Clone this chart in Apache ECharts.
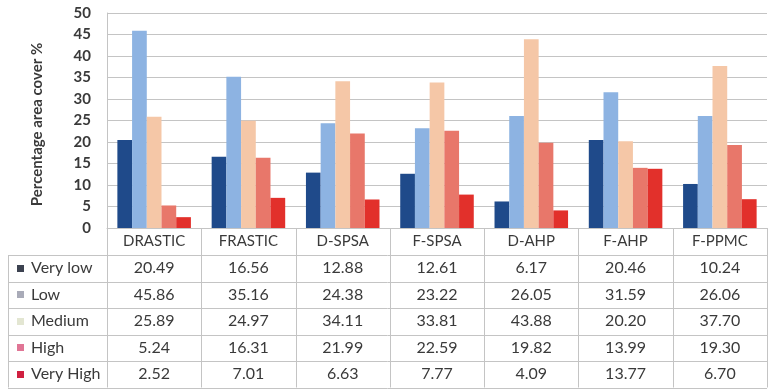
<!DOCTYPE html>
<html>
<head>
<meta charset="utf-8">
<script src="https://cdn.jsdelivr.net/npm/echarts@6/dist/echarts.min.js"></script>
<style>
  html, body { margin: 0; padding: 0; background: #ffffff; }
  #chart { width: 771px; height: 391px; }
</style>
</head>
<body>
<div id="chart"></div>
<script>
// Methods compared
const categories = ['DRASTIC', 'FRASTIC', 'D-SPSA', 'F-SPSA', 'D-AHP', 'F-AHP', 'F-PPMC'];

// Vulnerability classes and their share of area (%)
const classNames = ['Very low', 'Low', 'Medium', 'High', 'Very High'];
const veryLow  = [20.49, 16.56, 12.88, 12.61, 6.17, 20.46, 10.24];
const low      = [45.86, 35.16, 24.38, 23.22, 26.05, 31.59, 26.06];
const medium   = [25.89, 24.97, 34.11, 33.81, 43.88, 20.20, 37.70];
const high     = [5.24, 16.31, 21.99, 22.59, 19.82, 13.99, 19.30];
const veryHigh = [2.52, 7.01, 6.63, 7.77, 4.09, 13.77, 6.70];

// Y axis ticks
const yMin = 0, yMax = 50, yStep = 5;

const seriesValues = [veryLow, low, medium, high, veryHigh];
const barColors = ['#1f4a8a', '#8db3e2', '#f5c7a7', '#e8776a', '#e2302b'];
const keyColors = ['#3c4250', '#a9abb8', '#e3e6d2', '#e07595', '#d02040'];

const FONT = 'Lato, "Open Sans", sans-serif';
const LINE = '#c4c4c4';
const TEXT = '#3a3a3a';

const chart = echarts.init(document.getElementById('chart'), null, { renderer: 'canvas' });

const gridLeft = 107, gridRight = 4, gridTop = 13, gridBottom = 163;

chart.setOption({
  animation: false,
  backgroundColor: '#ffffff',
  grid: { left: gridLeft, right: gridRight, top: gridTop, bottom: gridBottom, containLabel: false },
  xAxis: {
    type: 'category',
    data: categories,
    axisLine: { show: true, lineStyle: { color: LINE, width: 1 } },
    axisTick: { show: false },
    axisLabel: { color: TEXT, fontFamily: FONT, fontSize: 15, margin: 6 }
  },
  yAxis: {
    type: 'value',
    min: yMin, max: yMax, interval: yStep,
    name: 'Percentage area cover %',
    nameLocation: 'middle',
    nameGap: 62,
    nameTextStyle: {
      color: TEXT, fontFamily: FONT, fontSize: 15, fontWeight: 'bold',
      padding: [0, 8, 0, 0]
    },
    axisLine: { show: true, lineStyle: { color: LINE, width: 1 } },
    axisTick: { show: false },
    axisLabel: { color: TEXT, fontFamily: FONT, fontSize: 15, fontWeight: 'bold', margin: 16 },
    splitLine: { show: true, lineStyle: { color: LINE, width: 1 } }
  },
  series: seriesValues.map((vals, i) => ({
    name: classNames[i],
    type: 'bar',
    data: vals,
    barGap: '0%',
    barCategoryGap: '22%',
    itemStyle: { color: barColors[i] }
  }))
});

// Data table under the plot, aligned with the category axis
function drawTable() {
  const c0 = chart.convertToPixel({ xAxisIndex: 0 }, 0);
  const c1 = chart.convertToPixel({ xAxisIndex: 0 }, 1);
  const bandW = c1 - c0;
  const axisY = chart.convertToPixel({ yAxisIndex: 0 }, 0);
  const headerBottom = axisY + 27;
  const rowH = 26.5;
  const tableLeft = 8;
  const plotLeft = c0 - bandW / 2;
  const plotRight = plotLeft + bandW * categories.length;
  const tableBottom = headerBottom + rowH * classNames.length;

  const els = [];
  const hline = (y, x1, x2) => els.push({
    type: 'line', silent: true,
    shape: { x1: x1, y1: Math.round(y) + 0.5, x2: x2, y2: Math.round(y) + 0.5 },
    style: { stroke: LINE, lineWidth: 1 }
  });
  const vline = (x, y1, y2) => els.push({
    type: 'line', silent: true,
    shape: { x1: Math.round(x) + 0.5, y1: y1, x2: Math.round(x) + 0.5, y2: y2 },
    style: { stroke: LINE, lineWidth: 1 }
  });

  // horizontal rules
  for (let r = 0; r <= classNames.length; r++) {
    hline(headerBottom + r * rowH, tableLeft, plotRight);
  }
  // vertical rules
  vline(tableLeft, headerBottom, tableBottom);
  vline(plotLeft, axisY, tableBottom);
  for (let k = 1; k <= categories.length; k++) {
    vline(plotLeft + k * bandW, axisY, tableBottom);
  }

  // row labels with colour keys, and values
  classNames.forEach((name, r) => {
    const cy = headerBottom + r * rowH + rowH / 2;
    els.push({
      type: 'rect', silent: true,
      shape: { x: 17, y: Math.round(cy - 3.5), width: 7, height: 7 },
      style: { fill: keyColors[r] }
    });
    els.push({
      type: 'text', silent: true,
      style: {
        x: 31, y: cy, text: name, fill: TEXT,
        font: '16px ' + FONT, textAlign: 'left', textVerticalAlign: 'middle'
      }
    });
    seriesValues[r].forEach((v, k) => {
      els.push({
        type: 'text', silent: true,
        style: {
          x: plotLeft + (k + 0.5) * bandW, y: cy, text: v.toFixed(2), fill: TEXT,
          font: '16px ' + FONT, textAlign: 'center', textVerticalAlign: 'middle'
        }
      });
    });
  });

  chart.setOption({ graphic: { elements: els } });
}

drawTable();
</script>
</body>
</html>
